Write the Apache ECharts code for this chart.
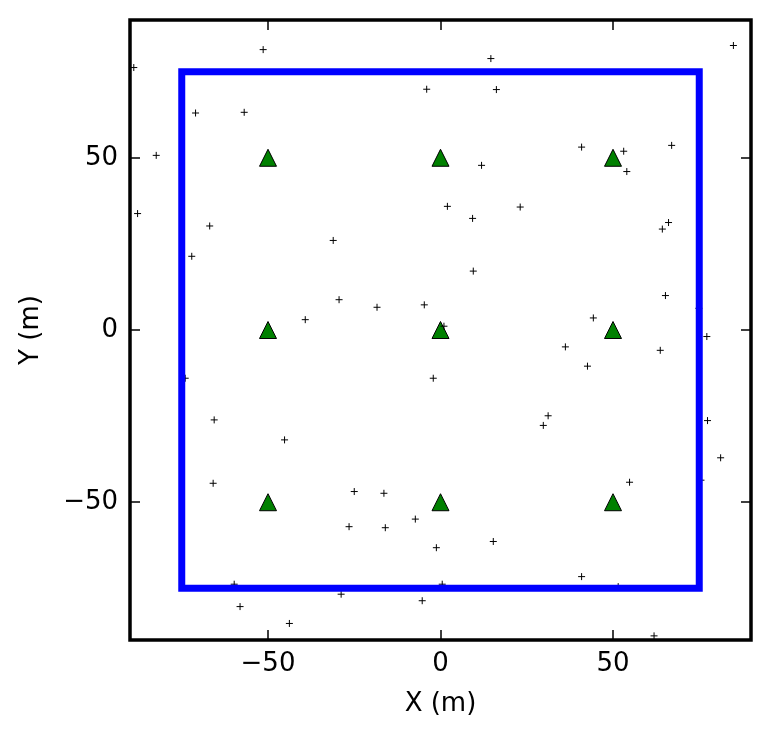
<!DOCTYPE html>
<html><head><meta charset="utf-8">
<script src="https://cdn.jsdelivr.net/npm/echarts@6/dist/echarts.min.js"></script>
<style>html,body{margin:0;padding:0;background:#fff}#c{width:771px;height:739px}</style>
</head><body><div id="c"></div>
<script>
const xRange = [-90, 90];
const yRange = [-90, 90];
const tickValues = [-50, 0, 50];
const xName = 'X (m)';
const yName = 'Y (m)';
const squareX = [-75, 75, 75, -75, -75];
const squareY = [-75, -75, 75, 75, -75];
const anchorX = [-50, 0, 50, -50, 0, 50, -50, 0, 50];
const anchorY = [50, 50, 50, 0, 0, 0, -50, -50, -50];
const pointX = [-51.4, -88.9, -4.0, -71.0, -56.9, -82.4, -87.8, -66.9, -31.1, -72.1, -29.4, -18.4, -4.7, -39.2,
  14.6, 84.9, 16.2, 40.9, 53.1, 67.0, 54.0, 11.9, 2.0, 23.1, 9.3, 66.1, 64.3, 9.5, 65.2, 74.9, 44.3, 1.0,
  -74.0, -2.1, -65.6, -45.2, -65.9, -25.0, -16.4, -26.5, -16.0, -7.3, -1.2, -59.8, 0.5, -28.8, -5.3, -58.1, -43.8,
  77.2, 36.2, 63.7, 42.6, 31.2, 29.8, 77.4, 81.2, 54.8, 75.5, 15.3, 40.9, 51.5, 61.9];
const pointY = [81.4, 76.2, 69.9, 63.0, 63.2, 50.7, 33.8, 30.2, 26.0, 21.4, 8.8, 6.6, 7.3, 3.0,
  78.8, 82.6, 69.8, 53.1, 51.9, 53.6, 46.0, 47.8, 35.9, 35.7, 32.4, 31.2, 29.3, 17.1, 10.0, 6.3, 3.5, 1.1,
  -14.0, -14.0, -26.1, -31.9, -44.5, -46.9, -47.4, -57.1, -57.4, -54.9, -63.2, -73.8, -73.8, -76.7, -78.6, -80.3, -85.2,
  -1.9, -4.9, -5.9, -10.5, -24.9, -27.7, -26.3, -37.1, -44.2, -43.6, -61.4, -71.6, -74.5, -88.8];

const font = 'DejaVu Sans';
const fs = 26;
const fmt = v => String(v).replace('-', '\u2212');
function axisCommon(extra) {
  return Object.assign({
    type: 'value',
    splitLine: { show: false },
    axisLine: { show: false, onZero: false },
    axisTick: { show: true, inside: true, length: 10, customValues: tickValues, lineStyle: { color: '#000', width: 1.5 } },
    axisLabel: { show: true, customValues: tickValues, formatter: fmt, color: '#000', fontFamily: font, fontSize: fs }
  }, extra);
}
const chart = echarts.init(document.getElementById('c'), null, { renderer: 'canvas' });
chart.setOption({
  animation: false,
  backgroundColor: '#fff',
  grid: { left: 130, right: 20, top: 20, bottom: 99, show: true, borderColor: '#000', borderWidth: 3.5, backgroundColor: 'transparent' },
  xAxis: [
    axisCommon({ position: 'bottom', min: xRange[0], max: xRange[1], name: xName, nameLocation: 'middle', nameGap: 51,
      nameTextStyle: { fontFamily: font, fontSize: fs, color: '#000' },
      axisLabel: { customValues: tickValues, formatter: fmt, color: '#000', fontFamily: font, fontSize: fs, margin: 11 } }),
    axisCommon({ position: 'top', min: xRange[0], max: xRange[1], axisLabel: { show: false } })
  ],
  yAxis: [
    axisCommon({ position: 'left', min: yRange[0], max: yRange[1], name: yName, nameLocation: 'middle', nameGap: 86,
      nameRotate: 90,
      nameTextStyle: { fontFamily: font, fontSize: fs, color: '#000' },
      axisLabel: { customValues: tickValues, formatter: fmt, color: '#000', fontFamily: font, fontSize: fs, margin: 12 } }),
    axisCommon({ position: 'right', min: yRange[0], max: yRange[1], axisLabel: { show: false } })
  ],
  series: [
    { type: 'line', data: squareX.map((x, i) => [x, squareY[i]]), symbol: 'none', silent: true,
      lineStyle: { color: '#0000ff', width: 7, join: 'miter', cap: 'square' } },
    { type: 'scatter', data: anchorX.map((x, i) => [x, anchorY[i]]), symbol: 'triangle', symbolSize: 17, silent: true,
      itemStyle: { color: '#008000', borderColor: '#000', borderWidth: 1, opacity: 1 } },
    { type: 'scatter', data: pointX.map((x, i) => [x, pointY[i]]), symbol: 'path://M0,5H10M5,0V10', symbolSize: 7, silent: true,
      itemStyle: { color: 'none', borderColor: '#000', borderWidth: 1, opacity: 1 } }
  ]
});
</script></body></html>
